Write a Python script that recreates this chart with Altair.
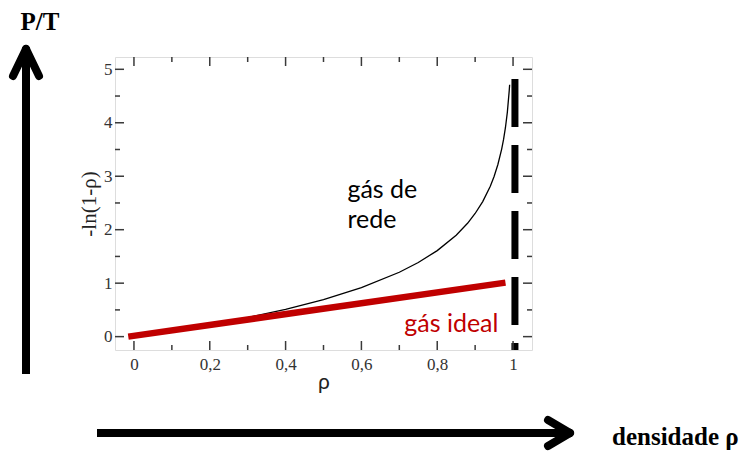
import altair as alt
import pandas as pd

# ---- data ----
rho_lattice = [0.0, 0.1, 0.2, 0.3, 0.4, 0.5, 0.6, 0.7, 0.75, 0.8, 0.85, 0.88, 0.9,
               0.92, 0.94, 0.95, 0.96, 0.97, 0.975, 0.98, 0.985, 0.99, 0.991]
p_lattice = [0.0, 0.105, 0.223, 0.357, 0.511, 0.693, 0.916, 1.204, 1.386, 1.609, 1.897,
             2.12, 2.303, 2.526, 2.813, 2.996, 3.219, 3.507, 3.689, 3.912, 4.2, 4.605, 4.71]
rho_ideal = [-0.015, 0.98]
p_ideal = [0.0, 1.01]
limit_x = [1.005]
limit_top = [4.82]

x_major = [0.0, 0.2, 0.4, 0.6, 0.8, 1.0]
x_minor = [0.1, 0.3, 0.5, 0.7, 0.9]
y_major = [0, 1, 2, 3, 4, 5]
y_minor = [0.5, 1.5, 2.5, 3.5, 4.5]

label_lattice = ["gás de", "rede"]
label_ideal = ["gás ideal"]

XDOM = [-0.05, 1.05]
YDOM = [-0.25, 5.23]
W, H = 417, 293

xs = alt.Scale(domain=XDOM, nice=False, zero=False)
ys = alt.Scale(domain=YDOM, nice=False, zero=False)

xaxis = alt.Axis(values=x_major, title="ρ", grid=False, domain=False, ticks=False,
                 labelFont="Liberation Serif", labelFontSize=17, labelColor="#333",
                 labelPadding=6,
                 labelExpr="datum.value == 0 ? '0' : datum.value == 1 ? '1' : replace(format(datum.value, '.1f'), '.', ',')",
                 titleFont="Lato", titleFontSize=21, titleFontWeight="normal", titleColor="#222",
                 titlePadding=-1)
yaxis = alt.Axis(values=y_major, title="-ln(1-ρ)", grid=False, domain=False, ticks=False,
                 labelFont="Liberation Serif", labelFontSize=17, labelColor="#333",
                 labelPadding=3,
                 titleFont="Liberation Serif", titleFontSize=21, titleFontWeight="normal",
                 titleColor="#222", titlePadding=4)


def X(f):
    return alt.X(f, type="quantitative", scale=xs, axis=xaxis)


def Y(f):
    return alt.Y(f, type="quantitative", scale=ys, axis=yaxis)


df_lat = pd.DataFrame({"x": rho_lattice, "y": p_lattice})
df_id = pd.DataFrame({"x": rho_ideal, "y": p_ideal})
df_lim = pd.DataFrame({"x": limit_x, "y": limit_top, "y2": [YDOM[0]]})

lattice = alt.Chart(df_lat).mark_line(color="black", strokeWidth=1.3).encode(x=X("x"), y=Y("y"))
ideal = alt.Chart(df_id).mark_line(color="#c00000", strokeWidth=6.5, strokeCap="butt").encode(
    x=X("x"), y=Y("y"))
limit = alt.Chart(df_lim).mark_rule(color="black", strokeWidth=7, strokeDash=[48, 18],
                                    strokeCap="butt").encode(x=X("x"), y=Y("y"), y2="y2")

# annotations
df_t1 = pd.DataFrame({"x": [0.563, 0.563], "y": [2.59, 2.03], "t": label_lattice})
txt1 = alt.Chart(df_t1).mark_text(font="Lato", fontSize=25, color="black", align="left",
                                  baseline="alphabetic").encode(x=X("x"), y=Y("y"), text="t")
df_t2 = pd.DataFrame({"x": [0.713], "y": [0.08], "t": label_ideal})
txt2 = alt.Chart(df_t2).mark_text(font="Lato", fontSize=25, color="#c00000", align="left",
                                  baseline="alphabetic").encode(x=X("x"), y=Y("y"), text="t")

# inward ticks on all four sides
tick_col = "#3a3a3a"
layers_ticks = []
for vals, ln in [(x_major, 9), (x_minor, 5)]:
    d = pd.DataFrame({"x": vals})
    layers_ticks.append(alt.Chart(d).mark_rule(color=tick_col, strokeWidth=1.5).encode(
        x=X("x"), y=alt.value(H), y2=alt.value(H - ln)))
    layers_ticks.append(alt.Chart(d).mark_rule(color=tick_col, strokeWidth=1.5).encode(
        x=X("x"), y=alt.value(0), y2=alt.value(ln)))
for vals, ln in [(y_major, 9), (y_minor, 5)]:
    d = pd.DataFrame({"y": vals})
    layers_ticks.append(alt.Chart(d).mark_rule(color=tick_col, strokeWidth=1.5).encode(
        y=Y("y"), x=alt.value(0), x2=alt.value(ln)))
    layers_ticks.append(alt.Chart(d).mark_rule(color=tick_col, strokeWidth=1.5).encode(
        y=Y("y"), x=alt.value(W), x2=alt.value(W - ln)))

# big arrows outside the frame (decoration, pixel space)
one = pd.DataFrame({"a": [0]})


def seg(x1, y1, x2, y2, cap="round"):
    return alt.Chart(one).mark_rule(color="black", strokeWidth=8, strokeCap=cap).encode(
        x=alt.value(x1), y=alt.value(y1), x2=alt.value(x2), y2=alt.value(y2))


arrows = [
    seg(-89, -4, -89, 317, cap="butt"),
    seg(-89, -8, -102, 19),
    seg(-89, -8, -76, 19),
    seg(-18, 376, 452, 376, cap="butt"),
    seg(455, 376, 433, 363),
    seg(455, 376, 433, 389),
]

pt = alt.Chart(one).mark_text(text="P/T", font="Liberation Serif", fontSize=25,
                              fontWeight="bold", color="black", align="center",
                              baseline="alphabetic").encode(x=alt.value(-75), y=alt.value(-27))
dens = alt.Chart(one).mark_text(text="densidade ρ", font="Liberation Serif", fontSize=25,
                                fontWeight="bold", color="black", align="left",
                                baseline="alphabetic").encode(x=alt.value(497), y=alt.value(388))

chart = alt.layer(lattice, ideal, limit, txt1, txt2, *layers_ticks, *arrows, pt, dens).properties(
    width=W, height=H,
    padding={"left": 115, "top": 57, "right": 218, "bottom": 104},
    autosize=alt.AutoSizeParams(type="none"),
).configure_view(stroke="#3a3a3a", strokeWidth=2).configure(background="white")

chart.save("out.html", embed_options={"renderer": "svg", "actions": False})
